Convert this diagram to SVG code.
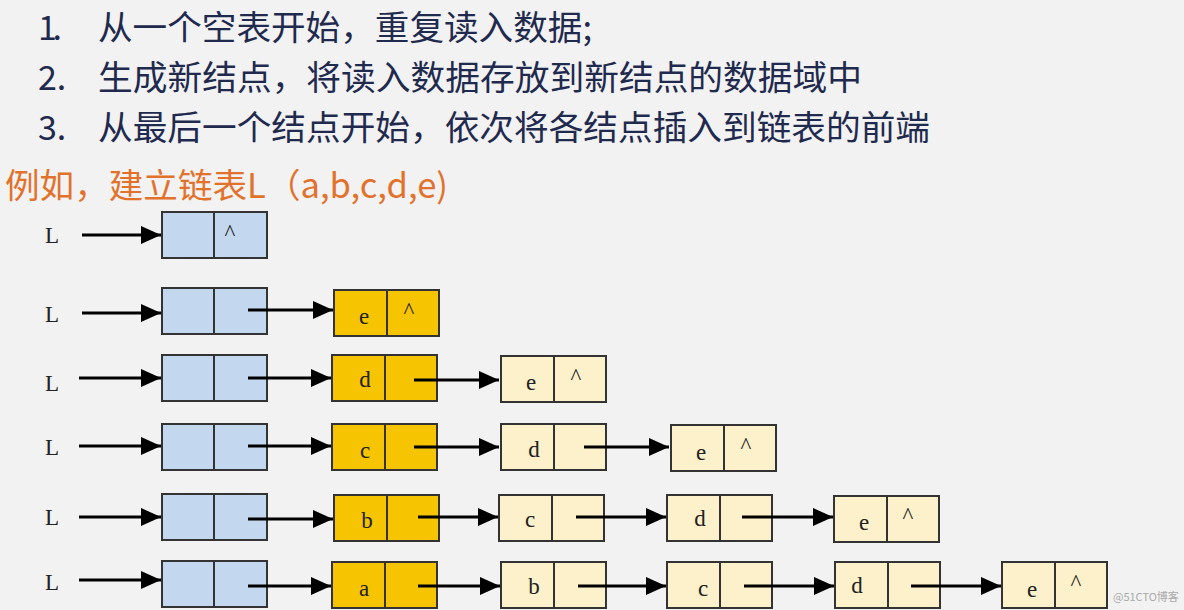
<svg xmlns="http://www.w3.org/2000/svg" width="1184" height="610" viewBox="0 0 1184 610">
<style>
.t{font-family:"Noto Sans CJK SC","Noto Sans",sans-serif;font-size:34px;fill:#1f2a4e}
.o{font-family:"Noto Sans CJK SC","Noto Sans",sans-serif;font-size:34px;fill:#e2722b}
.l{font-family:"Liberation Serif",serif;font-size:23px;fill:#222;text-anchor:middle}
.b{fill:#c3d8ee;stroke:#333;stroke-width:2}
.y{fill:#f6c401;stroke:#333;stroke-width:2}
.c{fill:#fdf1cb;stroke:#333;stroke-width:2}
.s{stroke:#333;stroke-width:2}
</style>
<defs>
<marker id="ah2" markerWidth="20" markerHeight="18" refX="20" refY="9" orient="auto" markerUnits="userSpaceOnUse"><path d="M0,0L20,9L0,18z" fill="#000"/></marker></defs>
<rect width="1184" height="610" fill="#f2f2f2"/>
<text class="t" x="38" y="40" textLength="24">1.</text><text class="t" x="98" y="40" textLength="494" lengthAdjust="spacingAndGlyphs">从一个空表开始，重复读入数据;</text>
<text class="t" x="38" y="90">2.</text><text class="t" x="98" y="90" textLength="764" lengthAdjust="spacingAndGlyphs">生成新结点，将读入数据存放到新结点的数据域中</text>
<text class="t" x="38" y="140">3.</text><text class="t" x="98" y="140" textLength="832" lengthAdjust="spacingAndGlyphs">从最后一个结点开始，依次将各结点插入到链表的前端</text>
<text class="o" x="5" y="198" textLength="443" lengthAdjust="spacingAndGlyphs">例如，建立链表L（a,b,c,d,e)</text>
<g id="labels">
<text class="l" x="52" y="243">L</text><text class="l" x="52" y="322">L</text><text class="l" x="52" y="391">L</text><text class="l" x="52" y="455">L</text><text class="l" x="52" y="525">L</text><text class="l" x="52" y="590">L</text>
</g>
<g id="r1"><rect class="b" x="162" y="212" width="105" height="46"/><line class="s" x1="214" y1="212" x2="214" y2="258"/><text class="l" x="230" y="240">^</text></g>
<g id="r2"><rect class="b" x="162" y="288" width="105" height="46"/><line class="s" x1="214" y1="288" x2="214" y2="334"/>
<rect class="y" x="334" y="290" width="105" height="46"/><line class="s" x1="387" y1="290" x2="387" y2="336"/><text class="l" x="364" y="324">e</text><text class="l" x="409" y="318">^</text></g>
<g id="r3"><rect class="b" x="162" y="355" width="105" height="46"/><line class="s" x1="214" y1="355" x2="214" y2="401"/>
<rect class="y" x="332" y="355" width="105" height="46"/><line class="s" x1="385" y1="355" x2="385" y2="401"/><text class="l" x="365" y="387">d</text>
<rect class="c" x="501" y="356" width="105" height="46"/><line class="s" x1="554" y1="356" x2="554" y2="402"/><text class="l" x="531" y="390">e</text><text class="l" x="576" y="384">^</text></g>
<g id="r4"><rect class="b" x="162" y="424" width="105" height="46"/><line class="s" x1="214" y1="424" x2="214" y2="470"/>
<rect class="y" x="332" y="424" width="105" height="46"/><line class="s" x1="385" y1="424" x2="385" y2="470"/><text class="l" x="365" y="458">c</text>
<rect class="c" x="501" y="424" width="105" height="46"/><line class="s" x1="554" y1="424" x2="554" y2="470"/><text class="l" x="534" y="457">d</text>
<rect class="c" x="671" y="425" width="105" height="46"/><line class="s" x1="724" y1="425" x2="724" y2="471"/><text class="l" x="701" y="460">e</text><text class="l" x="746" y="453">^</text></g>
<g id="r5"><rect class="b" x="162" y="494" width="105" height="46"/><line class="s" x1="214" y1="494" x2="214" y2="540"/>
<rect class="y" x="334" y="495" width="105" height="46"/><line class="s" x1="387" y1="495" x2="387" y2="541"/><text class="l" x="367" y="528">b</text>
<rect class="c" x="499" y="495" width="105" height="46"/><line class="s" x1="552" y1="495" x2="552" y2="541"/><text class="l" x="530" y="527">c</text>
<rect class="c" x="667" y="495" width="105" height="46"/><line class="s" x1="720" y1="495" x2="720" y2="541"/><text class="l" x="700" y="526">d</text>
<rect class="c" x="834" y="496" width="105" height="46"/><line class="s" x1="887" y1="496" x2="887" y2="542"/><text class="l" x="864" y="530">e</text><text class="l" x="908" y="523">^</text></g>
<g id="r6"><rect class="b" x="162" y="561" width="105" height="46"/><line class="s" x1="214" y1="561" x2="214" y2="607"/>
<rect class="y" x="332" y="562" width="105" height="46"/><line class="s" x1="385" y1="562" x2="385" y2="608"/><text class="l" x="364" y="596">a</text>
<rect class="c" x="501" y="562" width="105" height="46"/><line class="s" x1="554" y1="562" x2="554" y2="608"/><text class="l" x="534" y="594">b</text>
<rect class="c" x="667" y="562" width="105" height="46"/><line class="s" x1="720" y1="562" x2="720" y2="608"/><text class="l" x="703" y="596">c</text>
<rect class="c" x="835" y="562" width="105" height="46"/><line class="s" x1="888" y1="562" x2="888" y2="608"/><text class="l" x="857" y="593">d</text>
<rect class="c" x="1002" y="562" width="105" height="46"/><line class="s" x1="1055" y1="562" x2="1055" y2="608"/><text class="l" x="1032" y="597">e</text><text class="l" x="1076" y="590">^</text></g>
<g id="connectors" stroke="#000" stroke-width="3" marker-end="url(#ah2)">
<line x1="82" y1="235" x2="161" y2="235"/>
<line x1="82" y1="313" x2="161" y2="313"/><line x1="248" y1="310" x2="333" y2="310"/>
<line x1="79" y1="378" x2="161" y2="378"/><line x1="248" y1="378" x2="331" y2="378"/><line x1="414" y1="380" x2="499" y2="380"/>
<line x1="79" y1="446" x2="161" y2="446"/><line x1="248" y1="446" x2="331" y2="446"/><line x1="414" y1="447" x2="499" y2="447"/><line x1="584" y1="447" x2="669" y2="447"/>
<line x1="79" y1="517" x2="161" y2="517"/><line x1="248" y1="519" x2="333" y2="519"/><line x1="418" y1="517" x2="498" y2="517"/><line x1="576" y1="517" x2="666" y2="517"/><line x1="742" y1="517" x2="833" y2="517"/>
<line x1="79" y1="580" x2="161" y2="580"/><line x1="248" y1="586" x2="331" y2="586"/><line x1="418" y1="586" x2="500" y2="586"/><line x1="578" y1="586" x2="666" y2="586"/><line x1="744" y1="586" x2="834" y2="586"/><line x1="911" y1="586" x2="1001" y2="586"/>
</g>
<text x="1113" y="601" font-family="Noto Sans CJK SC,sans-serif" font-size="11" fill="#aaa">@51CTO博客</text>
</svg>
